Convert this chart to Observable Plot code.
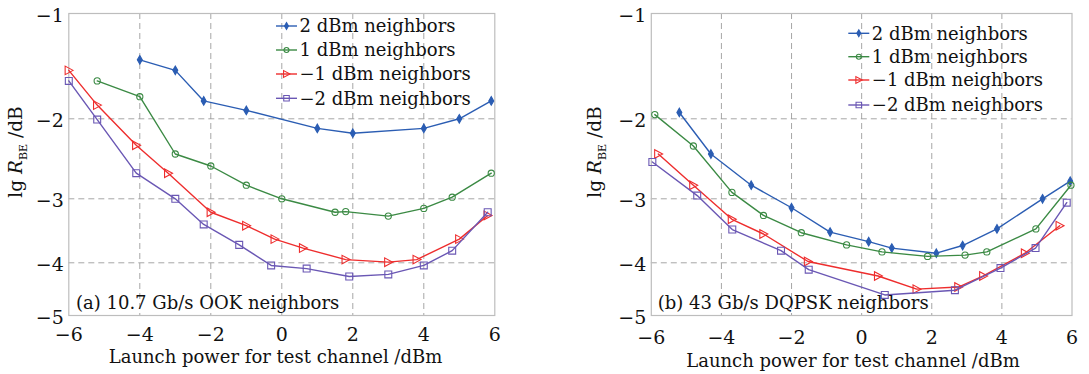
<!DOCTYPE html>
<html><head><meta charset="utf-8">
<script src="https://cdn.jsdelivr.net/npm/d3@7"></script>
<script src="https://cdn.jsdelivr.net/npm/@observablehq/plot@0.6"></script>
<style>
html,body{margin:0;padding:0;background:#fff;}
#wrap{display:flex;width:1089px;height:374px;overflow:hidden;}
#wrap svg{font-family:"DejaVu Serif",serif;display:block;}
</style></head><body><div id="wrap"></div>
<script>
// ---- data ----
const seriesNames = ["2 dBm neighbors", "1 dBm neighbors", "\u22121 dBm neighbors", "\u22122 dBm neighbors"];
const seriesColors = ["#2b5db3", "#3b8a44", "#ee2d2d", "#6a57b4"];
const xTicks = [-6, -4, -2, 0, 2, 4, 6];
const yTicks = [-5, -4, -3, -2, -1];
const xGrid = [-4, -2, 0, 2, 4];
const yGrid = [-4, -3, -2];
const panelTitles = ["(a) 10.7 Gb/s OOK neighbors", "(b) 43 Gb/s DQPSK neighbors"];
const xLabel = "Launch power for test channel /dBm";

// (a) 10.7 Gb/s OOK neighbors
const a2x = [-4, -3, -2.2, -1, 1, 2, 4, 5, 5.9];
const a2y = [-1.44, -1.54, -1.83, -1.92, -2.12, -2.18, -2.12, -2.0, -1.83];
const a1x = [-5.2, -4, -3, -2, -1, 0, 1.5, 1.8, 3, 4, 4.8, 5.9];
const a1y = [-1.64, -1.79, -2.44, -2.59, -2.83, -3.0, -3.21, -3.20, -3.27, -3.15, -2.98, -2.68];
const am1x = [-6, -5.2, -4.1, -3.2, -2, -1, -0.2, 0.6, 1.8, 3, 3.8, 5, 5.8];
const am1y = [-1.54, -1.87, -2.33, -2.68, -3.21, -3.42, -3.63, -3.77, -3.95, -3.99, -3.95, -3.63, -3.26];
const am2x = [-6, -5.2, -4.1, -3, -2.2, -1.2, -0.3, 0.7, 1.9, 3, 4, 4.8, 5.8];
const am2y = [-1.64, -2.01, -2.68, -3.0, -3.40, -3.72, -4.05, -4.11, -4.26, -4.22, -4.05, -3.81, -3.21];

// (b) 43 Gb/s DQPSK neighbors
const b2x = [-5.2, -4.3, -3.15, -2, -0.9, 0.2, 0.86, 2.13, 2.88, 3.86, 5.16, 5.95];
const b2y = [-1.94, -2.44, -2.83, -3.14, -3.52, -3.67, -3.77, -3.85, -3.73, -3.47, -3.0, -2.78];
const b1x = [-5.9, -4.8, -3.7, -2.8, -1.72, -0.43, 0.58, 1.88, 2.95, 3.57, 4.97, 5.97];
const b1y = [-1.96, -2.34, -2.92, -3.26, -3.53, -3.72, -3.83, -3.90, -3.88, -3.83, -3.47, -2.83];
const bm1x = [-5.8, -4.8, -3.7, -2.8, -1.53, 0.47, 1.57, 2.76, 3.47, 4.66, 5.65];
const bm1y = [-2.44, -2.83, -3.32, -3.55, -3.98, -4.25, -4.50, -4.46, -4.25, -3.85, -3.42];
const bm2x = [-5.97, -4.69, -3.69, -2.3, -1.51, 0.66, 2.66, 3.96, 4.96, 5.85];
const bm2y = [-2.54, -2.96, -3.48, -3.81, -4.13, -4.61, -4.52, -4.10, -3.77, -3.06];

// ---- symbols ----
const triRight = {
  draw(ctx, size) {
    const r = Math.sqrt(size / Math.PI);
    ctx.moveTo(r, 0);
    ctx.lineTo(-0.85 * r, -r);
    ctx.lineTo(-0.85 * r, r);
    ctx.closePath();
  }
};
const seriesSymbols = ["diamond", "circle", triRight, "square"];
const seriesFill = [true, false, false, false];
const seriesR = [2.6, 3.1, 4.3, 3.9];
const d3Symbols = [d3.symbolDiamond, d3.symbolCircle, triRight, d3.symbolSquare];

// non-uniform (BER-style) vertical axis: piecewise mapping of the axis values
const yWarp = d3.scaleLinear().domain([-5, -4, -3, -2, -1]).range([315, 262.3, 198.3, 118.3, 13]);

function table(xs, ys) { return xs.map((x, i) => ({x, y: ys[i]})); }
function fmt(d) { return d < 0 ? "\u2212" + Math.abs(d) : String(d); }

function makePanel(cfg) {
  const W = cfg.width, H = 374;
  const seriesData = cfg.series.map(([xs, ys]) => table(xs, ys));
  const grid = {stroke: "#9c9c9c", strokeOpacity: 1, strokeWidth: 0.9, strokeDasharray: "6,4"};
  const marks = [
    Plot.gridX(xGrid, grid),
    Plot.gridY(yGrid, grid),
    Plot.frame({stroke: "#bdbdbd", strokeWidth: 1.2}),
    Plot.axisX(xTicks, {tickSize: 0, tickPadding: cfg.xPad, tickFormat: fmt, fontSize: 19, label: null}),
    Plot.axisY(yTicks, {tickSize: 0, tickPadding: 5, tickFormat: fmt, fontSize: 19, label: null, dy: 2})
  ];
  seriesData.forEach((d, i) => {
    marks.push(Plot.line(d, {x: "x", y: "y", stroke: seriesColors[i], strokeWidth: 1.4}));
    marks.push(Plot.dot(d, {
      x: "x", y: "y", symbol: seriesSymbols[i], r: seriesR[i],
      stroke: seriesColors[i], strokeWidth: 1.1,
      fill: seriesFill[i] ? seriesColors[i] : "none"
    }));
  });
  const svg = Plot.plot({
    width: W, height: H,
    marginLeft: cfg.left, marginRight: W - cfg.right, marginTop: 13, marginBottom: H - 315,
    style: {fontFamily: "DejaVu Serif, serif", fontSize: "18px", color: "#111", background: "#fff"},
    x: {domain: [-6, 6], range: [cfg.left, cfg.right]},
    y: {transform: yWarp, domain: [315, 13], range: [315, 13]},
    marks
  });
  const s = d3.select(svg);
  // legend
  const g = s.append("g").attr("font-size", 18).attr("fill", "#111").attr("text-anchor", "start");
  seriesNames.forEach((name, i) => {
    const yy = cfg.legY[i];
    g.append("line").attr("x1", cfg.legX).attr("x2", cfg.legX + 21).attr("y1", yy).attr("y2", yy)
      .attr("stroke", seriesColors[i]).attr("stroke-width", 1.4);
    const sz = Math.PI * Math.pow(seriesR[i] * 0.8, 2);
    g.append("path").attr("d", d3.symbol(d3Symbols[i], sz)())
      .attr("transform", `translate(${cfg.legX + 10.5},${yy})`)
      .attr("stroke", seriesColors[i]).attr("stroke-width", 1.1)
      .attr("fill", seriesFill[i] ? seriesColors[i] : "none");
    g.append("text").attr("x", cfg.legX + 23.5).attr("y", yy).attr("dy", "0.35em").text(name);
  });
  // panel title
  s.append("text").attr("x", cfg.titleX).attr("y", 303).attr("dy", "0.35em")
    .attr("text-anchor", "start").attr("font-size", 18).attr("fill", "#111").text(cfg.title);
  // x label
  s.append("text").attr("x", cfg.xLabelX).attr("y", cfg.xLabelY).attr("dy", "0.35em")
    .attr("text-anchor", "middle").attr("font-size", 18).attr("fill", "#111").text(xLabel);
  // y label
  const yl = s.append("text").attr("transform", `translate(${cfg.yLabelX},152) rotate(-90)`)
    .attr("text-anchor", "middle").attr("dy", "0.35em").attr("font-size", 18.5).attr("fill", "#111");
  yl.append("tspan").text("lg ");
  yl.append("tspan").attr("font-style", "italic").text("R");
  yl.append("tspan").attr("font-size", 11).attr("dy", "0.45em").text("BE");
  yl.append("tspan").attr("dy", "-0.3em").text(" /dB");
  return svg;
}

const wrap = document.getElementById("wrap");
wrap.appendChild(makePanel({
  width: 545, left: 68.3, right: 494.3, xPad: 12, title: panelTitles[0], titleX: 76,
  legX: 276, legY: [26, 50, 74, 98.3], xLabelX: 275.5, xLabelY: 357, yLabelX: 16,
  series: [[a2x, a2y], [a1x, a1y], [am1x, am1y], [am2x, am2y]]
}));
wrap.appendChild(makePanel({
  width: 544, left: 105.8, right: 526.5, xPad: 15, title: panelTitles[1], titleX: 112.7,
  legX: 303.3, legY: [33.3, 56.7, 80, 105], xLabelX: 308, xLabelY: 361, yLabelX: 50,
  series: [[b2x, b2y], [b1x, b1y], [bm1x, bm1y], [bm2x, bm2y]]
}));
</script></body></html>
